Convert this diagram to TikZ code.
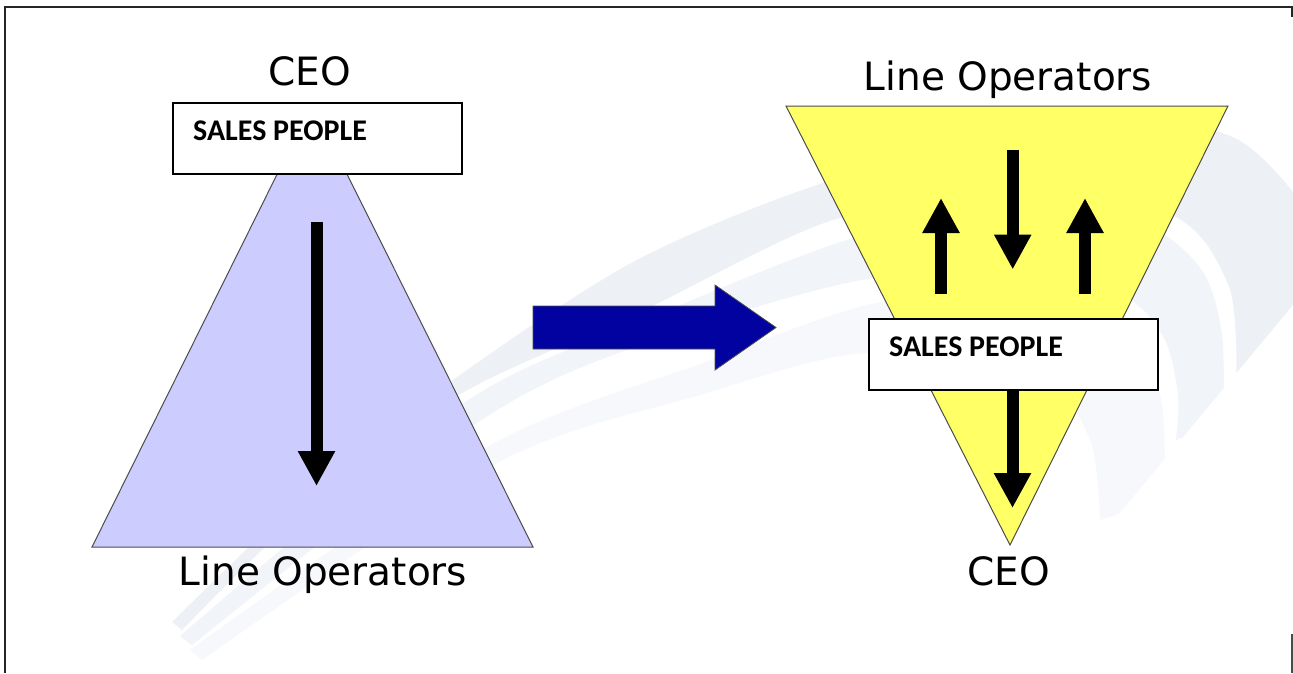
\documentclass[tikz,border=0pt]{standalone}
\usepackage{fontspec}
\usetikzlibrary{arrows.meta}
\newfontfamily\labelfont{DejaVu Sans}
\newfontfamily\boxfont{Carlito}
\definecolor{pyrblue}{HTML}{CCCCFF}
\definecolor{pyryellow}{HTML}{FFFF66}
\definecolor{shiftblue}{HTML}{0202A0}
\definecolor{swooshA}{HTML}{EDF1F6}
\definecolor{swooshB}{HTML}{F1F4F8}
\definecolor{swooshC}{HTML}{F6F8FB}
\begin{document}
\begin{tikzpicture}[x=1pt,y=-1pt,
  level/.style={font=\labelfont\fontsize{39}{44}\selectfont, inner sep=0pt, anchor=base},
  salesbox/.style={draw=black, line width=2pt, fill=white, rectangle, inner sep=0pt,
                   anchor=north west, minimum width=289pt, minimum height=71pt},
  salestext/.style={font=\boxfont\bfseries\fontsize{30}{34}\selectfont, inner sep=0pt, anchor=base west},
  flowarrow/.style={line width=12pt, line cap=butt, -{Triangle[width=35pt,length=35pt]}},
  pyramid/.style={draw=black!70, line width=1pt},
  frameline/.style={draw=black!85, line width=2pt}
]
\useasboundingbox (0,0) rectangle (1293,673);
\fill[white] (0,0) rectangle (1293,673);

% faint background swoosh
\begin{scope}
  \clip (0,0) -- (1293,0) -- (1293,305) -- (1133,497) -- (980,673) -- (0,673) -- cycle;
  \fill[swooshA] plot[smooth] coordinates {(172,622) (300,500) (453,380) (633,262) (817,185) (1000,140) (1150,124) (1235,138) (1293,192) (1330,260)}
     -- (1330,420)
     -- plot[smooth] coordinates {(1236,400) (1236,340) (1230,290) (1205,242) (1170,214) (1100,198) (1000,200) (833,220) (640,312) (457,396) (300,515) (182,630)} -- cycle;
  \fill[swooshB] plot[smooth] coordinates {(180,636) (462,404) (650,318) (847,240) (1000,212) (1110,215) (1165,235) (1205,275) (1222,335) (1224,420)}
     -- plot[smooth] coordinates {(1176,440) (1178,395) (1165,340) (1130,300) (1050,276) (867,279) (640,345) (477,423) (192,645)} -- cycle;
  \fill[swooshC] plot[smooth] coordinates {(190,650) (487,447) (700,364) (867,305) (1000,292) (1090,308) (1140,350) (1162,405) (1165,500)}
     -- plot[smooth] coordinates {(1100,520) (1090,440) (1040,380) (867,353) (700,395) (497,463) (202,660)} -- cycle;
\end{scope}

% frame
\draw[frameline] (5,673) -- (5,7) -- (1292,7) -- (1292,17);
\draw[draw=black!70, line width=1.5pt] (1292,634) -- (1292,673);

% traditional pyramid
\coordinate (lapex) at (312,104);
\coordinate (lbl) at (92,547);
\coordinate (lbr) at (533,547);
\filldraw[pyramid, fill=pyrblue] (lapex) -- (lbr) -- (lbl) -- cycle;

\node[level] (ceoL) at (310,85) {CEO};
\node[level] (opsL) at (323,585) {Line Operators};
\node[salesbox] (salesL) at (172,102) {};
\node[salestext] (salesLtxt) at (193,140.5) {SALES PEOPLE};

\coordinate (downL1) at (316.5,222);
\coordinate (downL2) at (316.5,486);
\draw[flowarrow] (downL1) -- (downL2);

% shift arrow
\node[coordinate] (shiftA) at (533,306) {};
\filldraw[draw=black!70, line width=0.8pt, fill=shiftblue]
  (shiftA) -- (715,306) -- (715,285) -- (776,327.5) -- (715,370) -- (715,349) -- (533,349) -- cycle;

% inverted pyramid
\coordinate (rtl) at (786,106);
\coordinate (rtr) at (1228,106);
\coordinate (rapex) at (1010,545);
\filldraw[pyramid, fill=pyryellow] (rtl) -- (rtr) -- (rapex) -- cycle;

\node[level] (opsR) at (1008,90) {Line Operators};
\node[level] (ceoR) at (1009,585) {CEO};

\coordinate (upA1) at (941,294);
\coordinate (upA2) at (941,198);
\coordinate (dnM1) at (1012.7,150);
\coordinate (dnM2) at (1012.7,269.5);
\coordinate (upB1) at (1085,294);
\coordinate (upB2) at (1085,198);
\draw[flowarrow] (upA1) -- (upA2);
\draw[flowarrow] (dnM1) -- (dnM2);
\draw[flowarrow] (upB1) -- (upB2);

\node[salesbox] (salesR) at (868,318) {};
\node[salestext] (salesRtxt) at (889,356) {SALES PEOPLE};

\coordinate (dnB2) at (1012.5,508);
\draw[flowarrow] (salesR.south -| dnB2) -- (dnB2);
\end{tikzpicture}
\end{document}
